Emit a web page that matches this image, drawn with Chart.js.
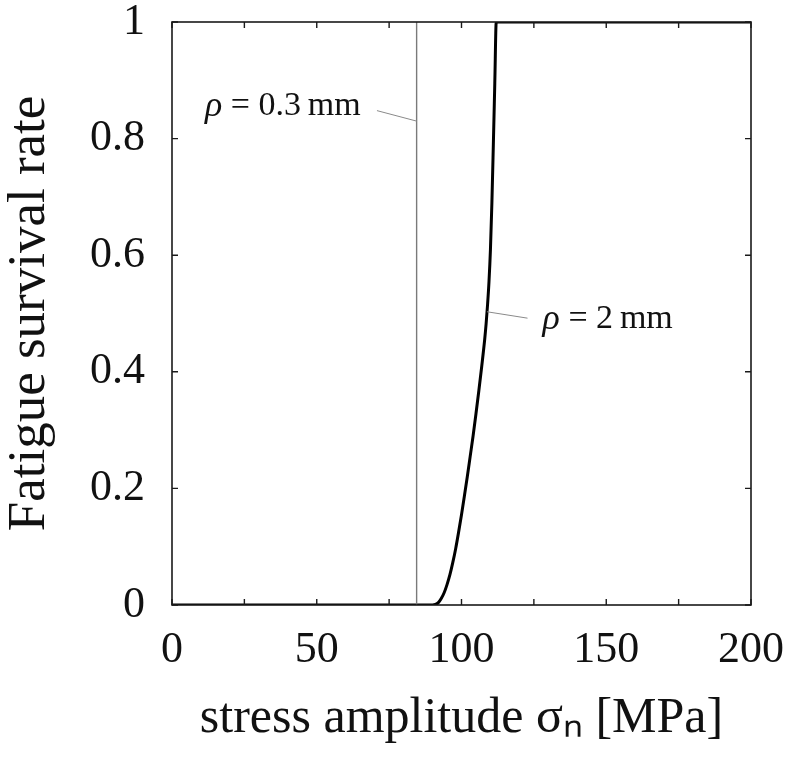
<!DOCTYPE html>
<html>
<head>
<meta charset="utf-8">
<script src="https://cdn.jsdelivr.net/npm/chart.js@4/dist/chart.umd.min.js"></script>
<style>
  html, body { margin: 0; padding: 0; background: #fff; }
  #wrap { width: 786px; height: 763px; }
</style>
</head>
<body>
<div id="wrap"><canvas id="c" width="786" height="763"></canvas></div>
<script>
// ---- data ----
const curveX = [0, 89, 90, 91, 92, 93, 94, 95, 96, 97, 98, 99, 100, 101, 102, 103, 104, 105, 106, 107, 108, 108.5, 109, 109.5, 110, 110.5, 111, 111.5, 112, 200];
const curveY = [0, 0, 0, 0.001, 0.004, 0.011, 0.021, 0.035, 0.052, 0.073, 0.097, 0.125, 0.155, 0.187, 0.22, 0.255, 0.29, 0.328, 0.368, 0.41, 0.455, 0.482, 0.515, 0.555, 0.61, 0.69, 0.79, 0.895, 1, 1];
const refLineX = [84.5, 84.5];
const refLineY = [0, 1];
const xTicks = [0, 50, 100, 150, 200];
const yTicks = [0, 0.2, 0.4, 0.6, 0.8, 1];
const labelThin = 'ρ = 0.3\u2009mm';
const labelThick = 'ρ = 2\u2009mm';

const SERIF = "'Liberation Serif', 'Times New Roman', serif";

// annotation placement (data coords) — kept apart from the data
const annotations = [
  { text: labelThin,  tx: 38.3, ty: 0.855, lx1: 70.8, ly1: 0.848, lx2: 84.5, ly2: 0.83 },
  { text: labelThick, tx: 150.5, ty: 0.49, lx1: 108.8, ly1: 0.503, lx2: 122.8, ly2: 0.492 }
];

const framePlugin = {
  id: 'frame',
  afterDatasetsDraw(chart) {
    const ctx = chart.ctx;
    const a = chart.chartArea;
    const xs = chart.scales.x, ys = chart.scales.y;
    ctx.save();
    // leader lines + labels
    ctx.strokeStyle = '#8a8a8a';
    ctx.lineWidth = 1;
    annotations.forEach(an => {
      ctx.beginPath();
      ctx.moveTo(xs.getPixelForValue(an.lx1), ys.getPixelForValue(an.ly1));
      ctx.lineTo(xs.getPixelForValue(an.lx2), ys.getPixelForValue(an.ly2));
      ctx.stroke();
      const cx = xs.getPixelForValue(an.tx), cy = ys.getPixelForValue(an.ty);
      const head = an.text.slice(0, 1), rest = an.text.slice(1);
      const fItalic = 'italic 36px ' + SERIF, fNormal = '34px ' + SERIF;
      ctx.font = fItalic; const w1 = ctx.measureText(head).width;
      ctx.font = fNormal; const w2 = ctx.measureText(rest).width;
      let x0 = cx - (w1 + w2) / 2;
      ctx.fillStyle = '#111';
      ctx.textBaseline = 'middle';
      ctx.textAlign = 'left';
      ctx.font = fItalic; ctx.fillText(head, x0, cy);
      ctx.font = fNormal; ctx.fillText(rest, x0 + w1, cy);
    });
    // frame
    ctx.strokeStyle = '#1a1a1a';
    ctx.lineWidth = 1.6;
    ctx.strokeRect(a.left, a.top, a.right - a.left, a.bottom - a.top);
    // inward ticks
    ctx.lineWidth = 1.4;
    const tl = 6;
    xs.ticks.forEach(t => {
      const p = xs.getPixelForValue(t.value);
      ctx.beginPath();
      ctx.moveTo(p, a.bottom); ctx.lineTo(p, a.bottom - tl);
      ctx.moveTo(p, a.top); ctx.lineTo(p, a.top + tl);
      ctx.stroke();
    });
    ys.ticks.forEach(t => {
      const p = ys.getPixelForValue(t.value);
      ctx.beginPath();
      ctx.moveTo(a.left, p); ctx.lineTo(a.left + tl, p);
      ctx.moveTo(a.right, p); ctx.lineTo(a.right - tl, p);
      ctx.stroke();
    });
    ctx.restore();
  }
};

new Chart(document.getElementById('c'), {
  type: 'scatter',
  data: {
    datasets: [
      {
        label: labelThin,
        data: refLineX.map((x, i) => ({ x, y: refLineY[i] })),
        showLine: true,
        borderColor: '#7a7a7a',
        borderWidth: 1.4,
        pointRadius: 0,
        fill: false
      },
      {
        label: labelThick,
        data: curveX.map((x, i) => ({ x, y: curveY[i] })),
        showLine: true,
        borderColor: '#000',
        borderWidth: 3,
        pointRadius: 0,
        cubicInterpolationMode: 'monotone',
        fill: false
      }
    ]
  },
  options: {
    responsive: false,
    animation: false,
    devicePixelRatio: 1,
    layout: { padding: { top: 22, right: 35, left: 0, bottom: 0 } },
    plugins: { legend: { display: false }, tooltip: { enabled: false } },
    scales: {
      x: {
        type: 'linear',
        min: 0, max: 200,
        grid: { display: false, drawTicks: false },
        border: { display: false },
        afterBuildTicks(scale) {
          const t = [];
          for (let v = 0; v <= 200; v += 25) t.push({ value: v });
          scale.ticks = t;
        },
        ticks: {
          autoSkip: false, maxRotation: 0,
          padding: 19,
          color: '#111',
          font: { family: SERIF, size: 44 },
          callback: (v) => xTicks.includes(v) ? String(v) : ''
        },
        title: {
          display: true,
          text: 'stress amplitude σₙ [MPa]',
          color: '#111',
          font: { family: SERIF, size: 50 },
          padding: { top: 0, bottom: 14 }
        },
        afterFit(scale) {
          scale.height = 158;
          scale.paddingLeft = 0; scale.paddingRight = 0;
        }
      },
      y: {
        type: 'linear',
        min: 0, max: 1,
        grid: { display: false, drawTicks: false },
        border: { display: false },
        afterBuildTicks(scale) {
          scale.ticks = yTicks.map(v => ({ value: v }));
        },
        ticks: {
          autoSkip: false,
          padding: 27,
          color: '#111',
          font: { family: SERIF, size: 44 },
          callback: (v) => String(Math.round(v * 10) / 10)
        },
        title: {
          display: true,
          text: 'Fatigue survival rate',
          color: '#111',
          font: { family: SERIF, size: 53 },
          padding: { top: -2, bottom: 0 }
        },
        afterFit(scale) {
          scale.width = 172;
          scale.paddingTop = 0; scale.paddingBottom = 0;
        }
      }
    }
  },
  plugins: [framePlugin]
});
</script>
</body>
</html>
